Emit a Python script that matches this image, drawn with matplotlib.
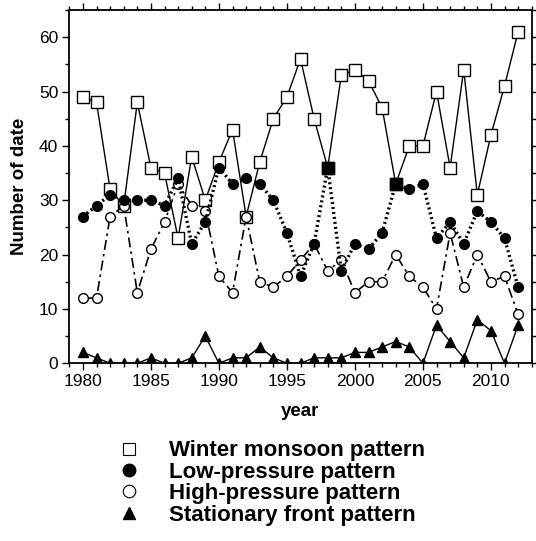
import numpy as np
import matplotlib
matplotlib.use('Agg')
from matplotlib import pyplot as plt
from matplotlib.lines import Line2D
from matplotlib.ticker import MultipleLocator

plt.rcParams['font.family'] = ['Liberation Sans', 'DejaVu Sans']

years = list(range(1980, 2013))
winter = [49, 48, 32, 29, 48, 36, 35, 23, 38, 30, 37, 43, 27, 37, 45, 49, 56,
          45, 36, 53, 54, 52, 47, 33, 40, 40, 50, 36, 54, 31, 42, 51, 61]
low = [27, 29, 31, 30, 30, 30, 29, 34, 22, 26, 36, 33, 34, 33, 30, 24, 16,
       22, 36, 17, 22, 21, 24, 33, 32, 33, 23, 26, 22, 28, 26, 23, 14]
high = [12, 12, 27, 29, 13, 21, 26, 33, 29, 28, 16, 13, 27, 15, 14, 16, 19,
        22, 17, 19, 13, 15, 15, 20, 16, 14, 10, 24, 14, 20, 15, 16, 9]
front = [2, 1, 0, 0, 0, 1, 0, 0, 1, 5, 0, 1, 1, 3, 1, 0, 0,
         1, 1, 1, 2, 2, 3, 4, 3, 0, 7, 4, 1, 8, 6, 0, 7]

labels = ['Winter monsoon pattern', 'Low-pressure pattern',
          'High-pressure pattern', 'Stationary front pattern']

fig = plt.figure(figsize=(5.36, 5.41), dpi=100)
ax = fig.add_axes([0.1293, 0.3285, 0.8627, 0.653])

x = np.array(years)
ax.plot(x, winter, color='black', lw=1.0, ls='-', marker='s', ms=8,
        mfc='white', mec='black', mew=1.0, zorder=2)
ax.plot(x, high, color='black', lw=1.2, ls=(0, (6, 2.5, 1.5, 2.5)), marker='o', ms=7,
        mfc='white', mec='black', mew=1.0, zorder=3)
ax.plot(x, low, color='black', lw=2.4, ls=(0, (0.6, 0.9)), marker='o', ms=7,
        mfc='black', mec='black', zorder=4)
ax.plot(x, front, color='black', lw=1.0, ls='-', marker='^', ms=7.5,
        mfc='black', mec='black', zorder=5)

# where winter monsoon and low pressure coincide, a filled square
same = np.array(winter) == np.array(low)
ax.plot(x[same], np.array(winter)[same], ls='none', marker='s', ms=8,
        mfc='black', mec='black', zorder=6)

ax.set_xlim(1979, 2013)
ax.set_ylim(0, 65)
ax.xaxis.set_major_locator(MultipleLocator(5))
ax.xaxis.set_minor_locator(MultipleLocator(1))
ax.yaxis.set_major_locator(MultipleLocator(10))
ax.yaxis.set_minor_locator(MultipleLocator(5))
ax.tick_params(which='both', direction='out', top=True, right=True,
               labeltop=False, labelright=False, width=1.0)
ax.tick_params(which='major', length=5, labelsize=12.5, pad=3)
ax.tick_params(which='minor', length=3)
for sp in ax.spines.values():
    sp.set_linewidth(1.3)

ax.set_xlabel('year', fontsize=13.5, fontweight='bold', labelpad=10)
ax.set_ylabel('Number of date', fontsize=13.5, fontweight='bold', labelpad=8)

handles = [
    Line2D([], [], ls='none', marker='s', ms=8.5, mfc='white', mec='black', mew=0.8),
    Line2D([], [], ls='none', marker='o', ms=9, mfc='black', mec='black'),
    Line2D([], [], ls='none', marker='o', ms=9, mfc='white', mec='black', mew=0.8),
    Line2D([], [], ls='none', marker='^', ms=8.5, mfc='black', mec='black'),
]
leg = fig.legend(handles, labels, loc='upper left', frameon=False,
                 prop={'size': 16, 'weight': 'bold'},
                 labelspacing=0.02, handletextpad=1.2, handlelength=1.2,
                 borderpad=0, borderaxespad=0)
leg.set_bbox_to_anchor((0.215, 0.186), transform=fig.transFigure)

fig.savefig('out.png', dpi=100)
